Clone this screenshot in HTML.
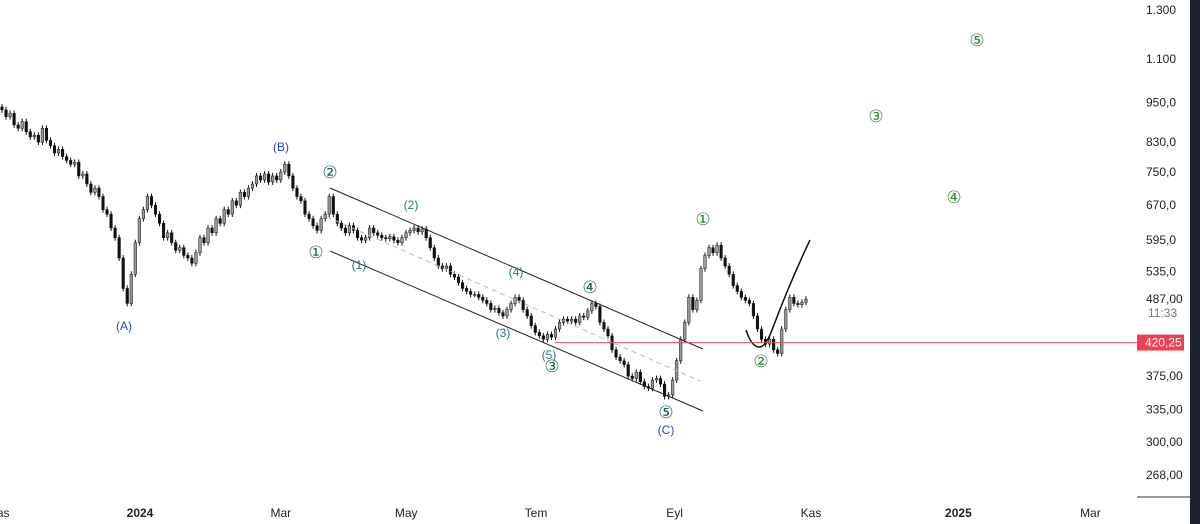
<!DOCTYPE html>
<html><head><meta charset="utf-8"><style>
html,body{margin:0;padding:0;background:#fff;}
svg{display:block;font-family:"Liberation Sans","DejaVu Sans",sans-serif;}
</style></head><body>
<svg id="chart" width="1200" height="524">
<rect x="0" y="0" width="1200" height="524" fill="#fff"/>
<rect x="1190" y="0" width="10" height="524" fill="#1e222d"/>
<line x1="1137" y1="497" x2="1190" y2="497" stroke="#333" stroke-width="1"/>
<g id="candles"></g>
<g id="drawings">
<line x1="330" y1="188" x2="703" y2="349" stroke="#222" stroke-width="1"/>
<line x1="330" y1="251" x2="703" y2="411" stroke="#222" stroke-width="1"/>
<line x1="327" y1="217" x2="700" y2="381" stroke="#aab8e0" stroke-width="1" stroke-dasharray="5,4"/>
<path d="M746 330 Q752 348 760 347 Q766 346 772 330 Q790 282 810 240" fill="none" stroke="#111" stroke-width="1.5"/>
</g>
<line id="pline" x1="555" x2="1137" stroke="#f0505a" stroke-width="1"/>
<g id="labels" font-size="12"></g>
<g id="axis" font-size="12" fill="#222"></g>
</svg>
<script>
const closes=[926,905,915,880,870,890,860,845,850,830,870,835,820,800,810,790,780,770,775,740,745,720,700,710,690,660,650,620,600,560,505,480,
530,590,640,660,690,
670,650,630,600,610,590,575,580,565,560,550,
570,600,590,620,610,640,630,660,650,680,670,700,690,710,720,
740,730,745,725,740,730,750,770,
740,710,690,680,650,640,625,615,
640,650,690,
650,630,620,610,625,615,600,595,600,620,610,605,600,598,602,595,590,600,610,615,620,612,618,
600,580,560,545,540,545,530,525,515,505,500,495,
495,490,485,480,470,472,465,460,470,480,490,485,
470,460,445,435,430,425,432,428,
440,450,455,452,455,450,460,458,468,480,475,
450,440,430,410,400,
395,390,375,372,380,368,362,360,370,372,365,350,352,
370,395,425,
450,490,470,485,
540,565,580,570,
585,560,545,530,510,500,490,485,480,460,440,425,
418,425,410,405,
440,470,490,480,478,482,487];
const priceTicks=[1300,1100,950,830,750,670,595,535,487,375,335,300,268];
const priceTickLabels=["1.300","1.100","950,0","830,0","750,0","670,0","595,0","535,0","487,00","375,00","335,00","300,00","268,00"];
const timeLabels=["Kas","2024","Mar","May","Tem","Eyl","Kas","2025","Mar"];
const timeDays=[-64,0,64,121,180,243,305,372,432];
const lastPrice=420.25;
const NS="http://www.w3.org/2000/svg";
function yOf(p){return 10+(Math.log(1300)-Math.log(p))*294.5;}
function xOfIdx(i){return 2+i*4.04;}
function xOfDay(d){return 140+d*2.2;}
function mk(tag,attrs,parent){const e=document.createElementNS(NS,tag);for(const k in attrs)e.setAttribute(k,attrs[k]);parent.appendChild(e);return e;}
const cg=document.getElementById('candles');
for(let i=0;i<closes.length;i++){
  const c=closes[i],o=i?closes[i-1]:c*1.01;
  const hi=Math.max(o,c)*1.01,lo=Math.min(o,c)*0.99;
  const x=xOfIdx(i);
  const w=mk('line',{x1:x,x2:x,y1:yOf(hi),y2:yOf(lo),stroke:'#111','stroke-width':1},cg);
  
  
  const top=yOf(Math.max(o,c)),bot=yOf(Math.min(o,c));
  const b=mk('rect',{x:x-1.3,y:top,width:2.6,height:Math.max(1,bot-top),fill:c>=o?'#9a9a9a':'#111',stroke:'#111','stroke-width':0.5},cg);
  
  
}
const pl=document.getElementById('pline');
pl.setAttribute('y1',yOf(lastPrice));pl.setAttribute('y2',yOf(lastPrice));
const ax=document.getElementById('axis');
priceTicks.forEach((p,i)=>{
  const t=mk('text',{x:1146,y:yOf(p)+4},ax);t.textContent=priceTickLabels[i];
  
  
});
const cd=mk('text',{x:1148,y:yOf(487)+18,fill:'#777'},ax);cd.textContent="11:33";


const py=yOf(lastPrice);
const pb=mk('rect',{x:1137,y:py-8,width:47,height:16,fill:'#f0404f'},ax);


const pt=mk('text',{x:1145,y:py+4,fill:'#fff'},ax);pt.textContent="420,25";


timeLabels.forEach((l,i)=>{
  const t=mk('text',{x:xOfDay(timeDays[i]),y:517,'text-anchor':'middle','font-weight':(l.length===4&&!isNaN(l))?'bold':'normal'},ax);
  t.textContent=l;
  
  
});
const labels=[["(A)",124,330,"#2549c4"],["(B)",281,151,"#2549c4"],["(C)",666,434,"#2549c4"],
["(1)",359,269,"#1f7a78"],["(2)",411,209,"#1f7a78"],["(3)",503,337,"#1f7a78"],["(4)",516,276,"#1f7a78"],["(5)",549,359,"#1f7a78"],
["②",330,178,"#1f5e5c"],["①",316,258,"#1f6e5c"],["③",552,372,"#1f6e4c"],["④",590,293,"#1f5e5c"],["⑤",666,418,"#1f5e5c"],
["①",703,225,"#2a8a3a"],["②",761,367,"#2a8a3a"],["③",876,122,"#2a8a3a"],["④",954,203,"#2a8a3a"],["⑤",977,46,"#2a8a3a"]];
const lg=document.getElementById('labels');
labels.forEach(l=>{
  const t=mk('text',{x:l[1],y:l[2],fill:l[3],'text-anchor':'middle','font-size':l[0].length>1?12:17},lg);
  t.textContent=l[0];
  
  
});
</script>
</body></html>
